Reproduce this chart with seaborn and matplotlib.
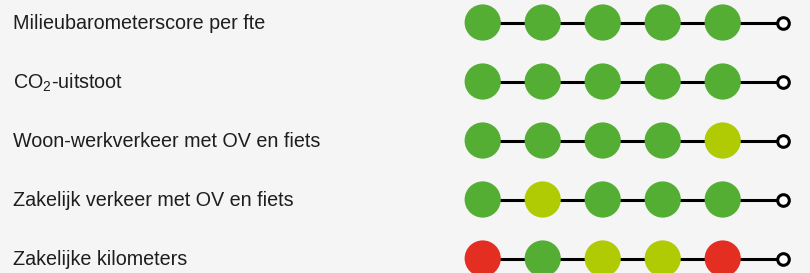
import pandas as pd
import matplotlib
matplotlib.use('Agg')
import matplotlib.pyplot as plt
import seaborn as sns

sns.set_style("white")
plt.rcParams['font.family'] = ['Liberation Sans', 'DejaVu Sans']
plt.rcParams['mathtext.fontset'] = 'custom'
plt.rcParams['mathtext.rm'] = 'Liberation Sans'
plt.rcParams['mathtext.it'] = 'Liberation Sans'

# rows, top to bottom
labels = [
    "Milieubarometerscore per fte",
    "CO$_2$-uitstoot",
    "Woon-werkverkeer met OV en fiets",
    "Zakelijk verkeer met OV en fiets",
    "Zakelijke kilometers",
]
# status per step (g = groen, y = geel, r = rood)
scores = [
    ["g", "g", "g", "g", "g"],
    ["g", "g", "g", "g", "g"],
    ["g", "g", "g", "g", "y"],
    ["g", "y", "g", "g", "g"],
    ["r", "g", "y", "y", "r"],
]
palette = {"g": "#53ae33", "y": "#b0cb04", "r": "#e42e22"}

rows = []
for i, row in enumerate(scores):
    for j, s in enumerate(row):
        rows.append({"row": i, "step": j, "status": s})
df = pd.DataFrame(rows)
n_steps = len(scores[0])

fig = plt.figure(figsize=(8.1, 2.73), dpi=100)
fig.patch.set_facecolor("#f5f5f5")
ax = fig.add_axes([0, 0, 1, 1])
ax.set_facecolor("#f5f5f5")

# track lines + open end circle
for i in range(len(labels)):
    ax.plot([0, n_steps], [i, i], color="black", lw=2.2, zorder=1, solid_capstyle="butt")
ends = pd.DataFrame({"row": range(len(labels)), "step": [n_steps] * len(labels)})
ax.scatter(ends["step"], ends["row"], s=70, facecolor="white", edgecolor="black",
           linewidth=2.2, zorder=3)

sns.scatterplot(data=df, x="step", y="row", hue="status", palette=palette, s=680,
                linewidth=0, legend=False, ax=ax, zorder=2)

for i, lab in enumerate(labels):
    ax.text(13 / 810, i + 0.02, lab, transform=ax.get_yaxis_transform(), va="center",
            ha="left", fontsize=14.2, color="#1e1e1e")

ax.set_xlim(-482.7 / 60, (810 - 482.7) / 60)
ax.set_ylim((273 - 22.5) / 59, -22.5 / 59)
ax.axis("off")

plt.savefig("out.png", dpi=100, facecolor=fig.get_facecolor())
